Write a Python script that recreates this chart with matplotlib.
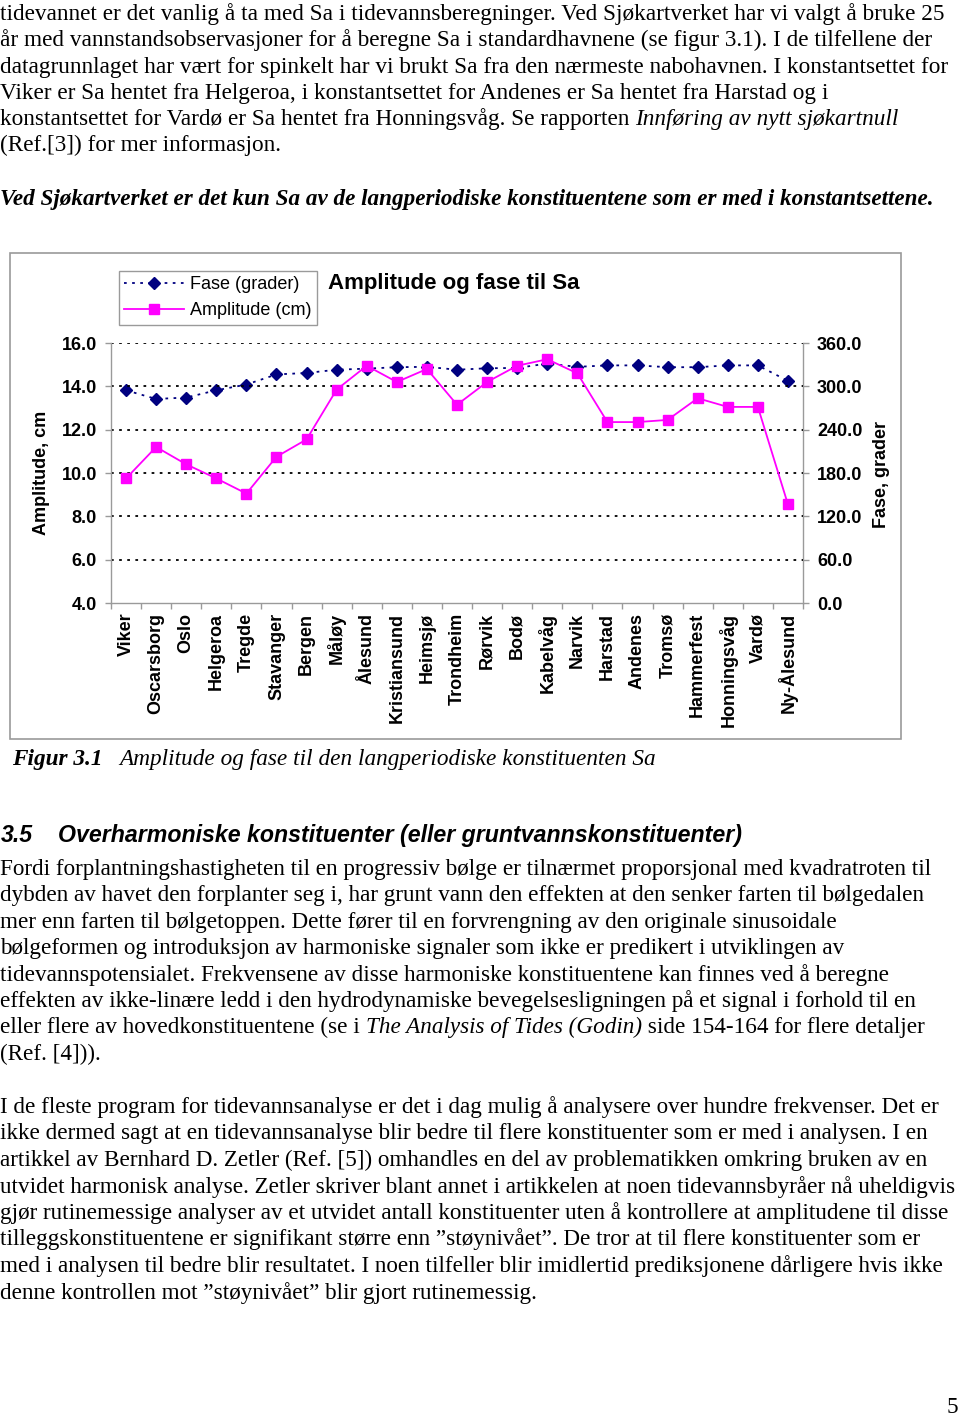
import matplotlib
matplotlib.use("Agg")
import matplotlib.pyplot as plt
from matplotlib.patches import Rectangle
import numpy as np

# ---------------- data ----------------
stations = ["Viker", "Oscarsborg", "Oslo", "Helgeroa", "Tregde", "Stavanger", "Bergen",
            "Måløy", "Ålesund", "Kristiansund", "Heimsjø", "Trondheim", "Rørvik", "Bodø",
            "Kabelvåg", "Narvik", "Harstad", "Andenes", "Tromsø", "Hammerfest",
            "Honningsvåg", "Vardø", "Ny-Ålesund"]
amplitude_cm = [9.75, 11.2, 10.4, 9.75, 9.05, 10.75, 11.55, 13.85, 14.95, 14.2, 14.8,
                13.15, 14.2, 14.95, 15.25, 14.6, 12.35, 12.35, 12.45, 13.45, 13.05, 13.05, 8.55]
phase_deg = [294.5, 282.5, 284.5, 294.5, 302.5, 316.5, 318.5, 323.0, 324.5, 326.5, 327.0,
             323.0, 325.0, 325.5, 331.5, 327.0, 329.0, 329.0, 326.5, 326.5, 329.0, 329.0, 307.5]
amp_ticks = [4, 6, 8, 10, 12, 14, 16]
phase_ticks = [0, 60, 120, 180, 240, 300, 360]

para1 = [
    "tidevannet er det vanlig å ta med Sa i tidevannsberegninger. Ved Sjøkartverket har vi valgt å bruke 25",
    "år med vannstandsobservasjoner for å beregne Sa i standardhavnene (se figur 3.1). I de tilfellene der",
    "datagrunnlaget har vært for spinkelt har vi brukt Sa fra den nærmeste nabohavnen. I konstantsettet for",
    "Viker er Sa hentet fra Helgeroa, i konstantsettet for Andenes er Sa hentet fra Harstad og i",
    [("konstantsettet for Vardø er Sa hentet fra Honningsvåg. Se rapporten ", "normal"),
     ("Innføring av nytt sjøkartnull", "italic")],
    "(Ref.[3]) for mer informasjon.",
]
emph_line = "Ved Sjøkartverket er det kun Sa av de langperiodiske konstituentene som er med i konstantsettene."
caption_num = "Figur 3.1"
caption_text = "Amplitude og fase til den langperiodiske konstituenten Sa"
heading_num = "3.5"
heading_text = "Overharmoniske konstituenter (eller gruntvannskonstituenter)"
para2 = [
    "Fordi forplantningshastigheten til en progressiv bølge er tilnærmet proporsjonal med kvadratroten til",
    "dybden av havet den forplanter seg i, har grunt vann den effekten at den senker farten til bølgedalen",
    "mer enn farten til bølgetoppen. Dette fører til en forvrengning av den originale sinusoidale",
    "bølgeformen og introduksjon av harmoniske signaler som ikke er predikert i utviklingen av",
    "tidevannspotensialet. Frekvensene av disse harmoniske konstituentene kan finnes ved å beregne",
    "effekten av ikke-linære ledd i den hydrodynamiske bevegelsesligningen på et signal i forhold til en",
    [("eller flere av hovedkonstituentene (se i ", "normal"),
     ("The Analysis of Tides (Godin)", "italic"),
     (" side 154-164 for flere detaljer", "normal")],
    "(Ref. [4])).",
]
para3 = [
    "I de fleste program for tidevannsanalyse er det i dag mulig å analysere over hundre frekvenser. Det er",
    "ikke dermed sagt at en tidevannsanalyse blir bedre til flere konstituenter som er med i analysen. I en",
    "artikkel av Bernhard D. Zetler (Ref. [5]) omhandles en del av problematikken omkring bruken av en",
    "utvidet harmonisk analyse. Zetler skriver blant annet i artikkelen at noen tidevannsbyråer nå uheldigvis",
    "gjør rutinemessige analyser av et utvidet antall konstituenter uten å kontrollere at amplitudene til disse",
    "tilleggskonstituentene er signifikant større enn ”støynivået”. De tror at til flere konstituenter som er",
    "med i analysen til bedre blir resultatet. I noen tilfeller blir imidlertid prediksjonene dårligere hvis ikke",
    "denne kontrollen mot ”støynivået” blir gjort rutinemessig.",
]

# ---------------- figure ----------------
W, H = 960, 1416
fig = plt.figure(figsize=(W / 100, H / 100), dpi=100)
fig.patch.set_facecolor("white")
renderer = fig.canvas.get_renderer()

SERIF = "Liberation Serif"
SANS = "Liberation Sans"


def fx(px):
    return px / W


def fy(py):
    return 1 - py / H


def text_width(s, size, family, style="normal", weight="normal"):
    t = fig.text(0, 0, "|" + s + "|", fontsize=size, family=family, style=style, weight=weight)
    w1 = t.get_window_extent(renderer).width
    t.remove()
    t = fig.text(0, 0, "||", fontsize=size, family=family, style=style, weight=weight)
    w0 = t.get_window_extent(renderer).width
    t.remove()
    return w1 - w0


def fit_size(s, target, family, style="normal", weight="normal"):
    w = text_width(s, 10, family, style, weight)
    return 10 * target / w


def draw_line(x, y, line, size, family, weight="normal"):
    if isinstance(line, str):
        line = [(line, "normal")]
    cx = x
    for seg, st in line:
        fig.text(fx(cx), fy(y), seg, fontsize=size, family=family, style=st,
                 weight=weight, va="baseline", ha="left")
        cx += text_width(seg, size, family, st, weight)


# paragraph 1
s1 = fit_size(para1[0], 945, SERIF)
for i, line in enumerate(para1):
    draw_line(0, 20 + i * 26.3, line, s1, SERIF)
s_emph = fit_size(emph_line, 936, SERIF, "italic", "bold")
draw_line(0, 205, [(emph_line, "italic")], s_emph, SERIF, weight="bold")

# caption
fig.text(fx(12), fy(765), caption_num, fontsize=s1, family=SERIF, style="italic",
         weight="bold", va="baseline")
fig.text(fx(119), fy(765), caption_text, fontsize=s1, family=SERIF, style="italic",
         va="baseline")

# heading
s_head = fit_size(heading_text, 684, SANS, "italic", "bold")
fig.text(fx(1), fy(842), heading_num, fontsize=s_head, family=SANS, style="italic",
         weight="bold", va="baseline")
fig.text(fx(58), fy(842), heading_text, fontsize=s_head, family=SANS, style="italic",
         weight="bold", va="baseline")

# paragraph 2
s2 = fit_size(para2[0], 931, SERIF)
for i, line in enumerate(para2):
    draw_line(0, 875 + i * 26.4, line, s2, SERIF)

# paragraph 3
s3 = fit_size(para3[3], 955, SERIF)
for i, line in enumerate(para3):
    draw_line(0, 1113 + i * 26.5, line, s3, SERIF)

# page number
fig.text(fx(958), fy(1413), "5", fontsize=s1, family=SERIF, ha="right", va="baseline")

# ---------------- chart ----------------
GRAY = "#9a9a9a"
NAVY = "#000080"
MAG = "#FF00FF"
CF = 13  # chart font size

fig.patches.append(Rectangle((fx(10), fy(739)), fx(901) - fx(10), fy(253) - fy(739),
                             transform=fig.transFigure, facecolor="none",
                             edgecolor=GRAY, lw=1.2))

ax = fig.add_axes([fx(111), fy(603), fx(803) - fx(111), fy(343) - fy(603)])
ax2 = ax.twinx()
ax.set_zorder(ax2.get_zorder() + 1)
ax.patch.set_visible(False)

x = np.arange(len(stations))
ph, = ax2.plot(x, phase_deg, color=NAVY, lw=1.3, linestyle=(0, (1.5, 3)),
               marker="D", ms=6.5, mfc=NAVY, mec=NAVY)
am, = ax.plot(x, amplitude_cm, color=MAG, lw=1.3, marker="s", ms=7, mfc=MAG, mec=MAG)

ax.set_xlim(-0.5, len(stations) - 0.5)
ax.set_ylim(amp_ticks[0], amp_ticks[-1])
ax2.set_ylim(phase_ticks[0], phase_ticks[-1])

for v in amp_ticks[1:]:
    ax.axhline(v, color="black", lw=1.3, linestyle=(0, (1.5, 3)), zorder=0)

ax.set_yticks(amp_ticks)
ax.set_yticklabels([f"{v:.1f}" for v in amp_ticks], fontsize=CF, weight="bold", family=SANS)
ax2.set_yticks(phase_ticks)
ax2.set_yticklabels([f"{v:.1f}" for v in phase_ticks], fontsize=CF, weight="bold", family=SANS)

ax.set_xticks(x)
ax.set_xticklabels(stations, rotation=90, fontsize=CF, weight="bold", family=SANS, va="top")
ax.set_xticks(np.arange(-0.5, len(stations), 1), minor=True)
ax.tick_params(axis="x", which="major", length=0, pad=7)
ax.tick_params(axis="x", which="minor", length=4.5, color=GRAY, width=1)
ax.tick_params(axis="y", length=4.5, color=GRAY, width=1, pad=5.5)
ax2.tick_params(axis="y", length=4.5, color=GRAY, width=1, pad=5.5)

for a in (ax, ax2):
    for s in a.spines.values():
        s.set_color(GRAY)
        s.set_linewidth(1)
    a.spines["top"].set_visible(False)
ax.spines["right"].set_visible(False)
ax2.spines["left"].set_visible(False)
ax2.spines["bottom"].set_visible(False)

fig.text(fx(42), fy(473), "Amplitude, cm", rotation=90, fontsize=CF, weight="bold",
         family=SANS, ha="center", va="center")
fig.text(fx(881), fy(475), "Fase, grader", rotation=90, fontsize=CF, weight="bold",
         family=SANS, ha="center", va="center")
fig.text(fx(328), fy(284), "Amplitude og fase til Sa", fontsize=16, weight="bold",
         family=SANS, ha="left", va="center")

leg = fig.legend([ph, am], ["Fase (grader)", "Amplitude (cm)"], loc="upper left",
                 bbox_to_anchor=(fx(119), fy(271)), prop={"family": SANS, "size": CF},
                 handlelength=3.3, handletextpad=0.35, borderpad=0.3, labelspacing=0.5,
                 borderaxespad=0, fancybox=False, framealpha=1)
leg.get_frame().set_edgecolor(GRAY)
leg.get_frame().set_linewidth(1)

fig.savefig("out.png", dpi=100)
